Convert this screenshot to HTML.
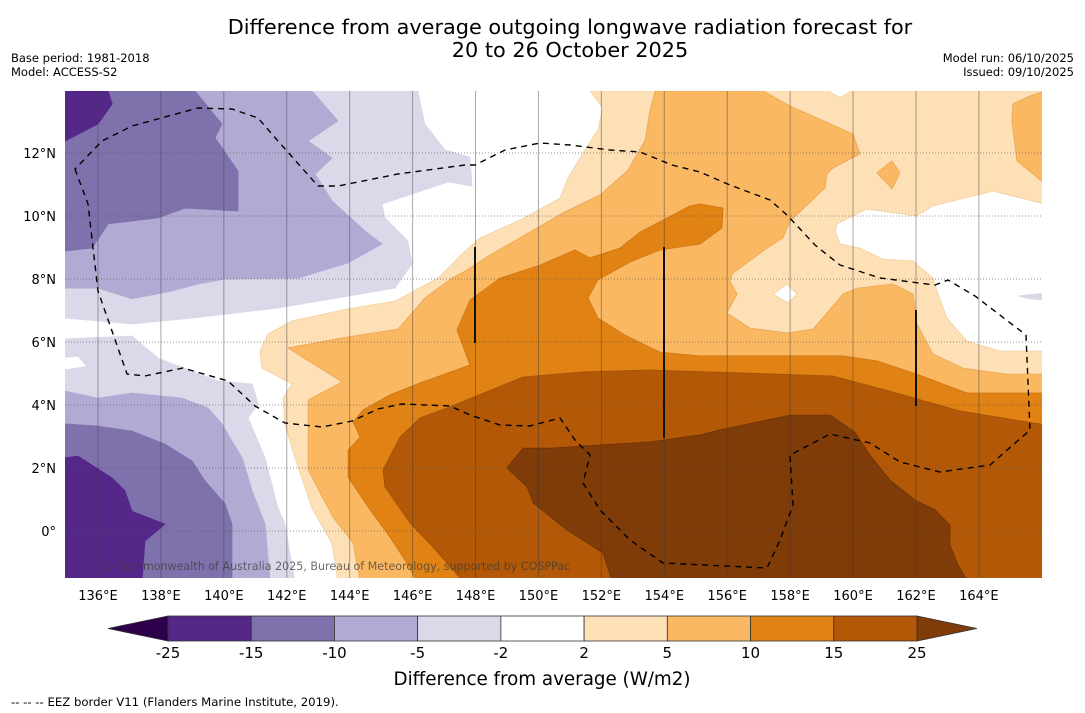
<!DOCTYPE html>
<html><head><meta charset="utf-8">
<style>
html,body{margin:0;padding:0;background:#fff;width:1085px;height:713px;overflow:hidden;font-family:"DejaVu Sans","Liberation Sans",sans-serif;}
svg{position:absolute;left:0;top:0;}
</style></head>
<body>
<svg width="1085" height="713" viewBox="0 0 1085 713">
<text x="570" y="34" text-anchor="middle" font-size="20.8" fill="#000">Difference from average outgoing longwave radiation forecast for</text>
<text x="570" y="57" text-anchor="middle" font-size="20.8" fill="#000">20 to 26 October 2025</text>
<text x="11" y="62" font-size="11.5">Base period: 1981-2018</text>
<text x="11" y="76" font-size="11.5">Model: ACCESS-S2</text>
<text x="1074" y="62" font-size="11.5" text-anchor="end">Model run: 06/10/2025</text>
<text x="1074" y="76" font-size="11.5" text-anchor="end">Issued: 09/10/2025</text>
<defs><clipPath id="mapclip"><rect x="65" y="91" width="977" height="487"/></clipPath></defs>
<g id="map" clip-path="url(#mapclip)"></g>
<g id="axes"></g>
<g id="cbar"></g>
<text x="542" y="685" text-anchor="middle" font-size="18.3">Difference from average (W/m2)</text>
<text x="11" y="706" font-size="11.7">--  --  -- EEZ border V11 (Flanders Marine Institute, 2019).</text>
</svg>
<script>
// contour level polygons [lon,lat]
const lavenderUpper=[[134.95,13.97],[146.17,13.97],[146.39,12.92],[147.03,12.10],[147.82,11.87],[147.89,10.95],[147.13,11.08],[145.03,10.38],[145.12,9.94],[145.85,9.21],[145.98,8.48],[145.44,7.71],[143.63,7.40],[141.72,7.08],[138.99,6.76],[137.08,6.57],[134.95,6.76]];
const lavenderLower=[[134.95,6.10],[137.08,6.19],[137.91,5.49],[139.81,4.76],[140.90,4.67],[141.09,4.03],[140.77,3.59],[141.31,2.32],[141.72,0.73],[141.94,0.22],[142.26,-1.6],[134.95,-1.6]];
const whiteNotch=[[134.95,5.49],[135.36,5.52],[135.59,5.24],[134.95,5.14]];
const m10Upper=[[134.95,13.97],[142.80,13.97],[143.63,13.02],[142.68,12.38],[143.44,11.84],[142.90,11.33],[143.44,10.48],[144.49,9.52],[145.03,9.11],[143.95,8.51],[142.36,8.03],[140.04,8.00],[139.18,7.84],[138.35,7.62],[137.08,7.37],[136.00,7.71],[134.95,7.71]];
const m10Lower=[[134.95,4.44],[136.00,4.22],[137.08,4.38],[138.67,4.22],[139.50,3.90],[139.94,3.40],[140.26,2.86],[140.58,2.32],[140.90,1.27],[141.31,0.22],[141.47,-1.6],[134.95,-1.6]];
const m15Upper=[[134.95,13.97],[139.08,13.97],[139.94,12.92],[139.72,12.48],[140.45,11.43],[140.45,10.16],[138.77,10.25],[137.91,9.94],[136.32,9.75],[135.81,8.98],[134.95,8.89]];
const m15Lower=[[134.95,3.40],[136.00,3.33],[137.08,3.17],[138.13,2.76],[138.99,2.22],[139.40,1.59],[140.04,0.86],[140.26,0.22],[140.26,-1.6],[134.95,-1.6]];
const m25Upper=[[134.95,13.97],[136.32,13.97],[136.45,13.56],[136.00,12.92],[134.95,12.38]];
const m25Lower=[[134.95,2.32],[135.36,2.38],[136.45,1.68],[136.86,1.27],[137.08,0.63],[138.13,0.22],[137.49,-0.32],[137.40,-1.6],[134.95,-1.6]];
const p2Main=[[151.64,13.97],[152.05,13.43],[151.89,12.73],[151.48,12.10],[150.94,11.21],[150.69,10.57],[149.41,9.87],[148.14,9.30],[147.67,8.89],[146.81,8.03],[145.44,7.30],[143.95,7.05],[142.17,6.67],[141.40,6.25],[141.15,5.71],[141.21,5.17],[142.17,4.67],[141.88,4.22],[141.94,3.40],[142.26,2.32],[142.80,0.73],[143.44,-0.41],[143.63,-1.6],[166.1,-1.6],[166.1,13.97]];
const whiteRight=[[159.43,9.52],[159.49,9.75],[160.44,10.22],[162.03,10.00],[162.54,10.32],[164.45,10.79],[166.1,10.38],[166.1,5.71],[164.67,5.71],[163.62,6.03],[162.99,6.76],[162.67,7.62],[162.54,8.03],[161.91,8.57],[160.95,8.63],[160.22,8.98],[159.59,9.11]];
const whiteTop=[[159.17,14.0],[159.59,13.75],[160.00,14.0]];
const whiteDiamond=[[157.46,7.52],[157.90,7.84],[158.22,7.52],[157.93,7.24]];
const lavSliver=[[165.24,7.46],[166.1,7.56],[166.1,7.33],[165.62,7.37]];
const p5Main=[[153.71,13.97],[157.14,13.97],[158.00,13.49],[158.86,13.11],[160.00,12.60],[160.22,11.97],[159.36,11.52],[159.17,11.33],[159.11,10.89],[158.00,9.84],[157.77,9.30],[157.27,8.98],[156.18,8.19],[156.09,7.94],[156.31,7.52],[155.99,6.92],[156.72,6.44],[157.90,6.29],[158.73,6.41],[159.68,7.52],[160.13,7.71],[161.27,7.84],[161.91,7.52],[162.03,6.57],[162.54,5.62],[163.50,5.17],[164.89,4.98],[166.1,4.98],[166.1,-1.6],[144.33,-1.6],[144.11,-0.38],[143.47,0.44],[142.96,1.40],[142.68,1.94],[142.68,4.16],[143.76,4.73],[142.04,5.81],[143.76,6.13],[145.54,6.41],[146.39,7.40],[147.25,8.03],[147.67,8.25],[148.46,8.76],[149.73,9.49],[150.84,10.13],[151.96,10.67],[152.85,11.46],[153.39,12.41],[153.55,13.37]];
const p5Blob=[[165.05,13.02],[165.08,13.56],[165.62,13.81],[166.1,13.97],[166.1,11.02],[165.21,11.75]];
const p5Diamond=[[160.76,11.37],[161.24,11.75],[161.49,11.37],[161.24,10.86]];
const p10Main=[[166.1,4.38],[163.62,4.38],[162.03,4.98],[160.76,5.40],[159.68,5.56],[155.14,5.56],[153.86,5.68],[152.75,6.22],[151.89,6.76],[151.58,7.40],[151.89,7.97],[152.91,8.54],[153.86,8.92],[155.14,9.11],[155.83,9.62],[155.87,10.25],[155.14,10.38],[154.82,10.32],[153.23,9.49],[152.59,8.98],[151.64,8.67],[151.16,8.92],[150.05,8.44],[148.78,8.03],[147.82,7.33],[147.41,6.38],[147.82,5.27],[146.24,4.70],[145.28,4.32],[144.42,3.84],[144.11,3.46],[144.33,2.98],[143.95,2.57],[143.95,1.71],[144.65,0.67],[145.28,-0.19],[145.82,-1.02],[146.14,-1.6],[166.1,-1.6]];
const p15Main=[[166.1,3.37],[163.40,3.81],[161.49,4.35],[159.36,4.92],[153.55,5.11],[151.42,5.05],[149.51,4.89],[147.19,3.94],[146.24,3.59],[145.60,2.98],[145.06,1.94],[145.12,1.40],[145.92,0.25],[146.65,-0.51],[147.60,-1.6],[166.1,-1.6]];
const p25Main=[[149.00,2.00],[149.51,2.63],[150.37,2.63],[153.55,2.83],[155.14,3.05],[155.77,3.21],[158.00,3.68],[159.27,3.68],[160.06,3.14],[160.54,2.41],[161.17,1.62],[161.97,0.98],[162.61,0.67],[163.08,0.19],[163.08,-0.44],[163.34,-1.08],[163.65,-1.6],[152.34,-1.6],[152.05,-0.70],[150.91,0.03],[149.83,0.89],[149.64,1.40]];
const lonTicks=[136,138,140,142,144,146,148,150,152,154,156,158,160,162,164];
const latTicks=[0,2,4,6,8,10,12];
const cbarLevels=["-25","-15","-10","-5","-2","2","5","10","15","25"];
const cbarColors=["#542789","#7f72ac","#b1abd3","#d9d9ea","#ffffff","#fde0b6","#fbb862","#e08214","#b35806"];

const NS='http://www.w3.org/2000/svg';
const xS=lon=>98+(lon-136)*31.46;
const yS=lat=>531-lat*31.5;
const map=document.getElementById('map');
function poly(pts,fill,name,stroke){
  const p=document.createElementNS(NS,'polygon');
  p.setAttribute('points',pts.map(d=>xS(d[0]).toFixed(1)+','+yS(d[1]).toFixed(1)).join(' '));
  p.setAttribute('fill',fill);
  p.setAttribute('stroke',stroke||fill);
  p.setAttribute('stroke-width','0.8');
  
  
  map.appendChild(p);
}
const bg=document.createElementNS(NS,'rect');
bg.setAttribute('x',65);bg.setAttribute('y',91);bg.setAttribute('width',977);bg.setAttribute('height',487);bg.setAttribute('fill','#fff');


map.appendChild(bg);
poly(lavenderUpper,'#d9d9ea','contour-minus2-upper');
poly(lavenderLower,'#d9d9ea','contour-minus2-lower');
poly(whiteNotch,'#ffffff','white-notch');
poly(m10Upper,'#b1abd3','contour-minus5-upper');
poly(m10Lower,'#b1abd3','contour-minus5-lower');
poly(m15Upper,'#7f72ac','contour-minus10-upper');
poly(m15Lower,'#7f72ac','contour-minus10-lower');
poly(m25Upper,'#542789','contour-minus15-upper');
poly(m25Lower,'#542789','contour-minus15-lower');
poly(p2Main,'#fde0b6','contour-plus2','#f2cfa0');
poly(whiteRight,'#ffffff','white-region-east','#f2cfa0');
poly(whiteTop,'#ffffff','white-region-top','#f2cfa0');
poly(whiteDiamond,'#ffffff','white-diamond','#f2cfa0');
poly(lavSliver,'#d9d9ea','lavender-sliver');
poly(p5Main,'#fbb862','contour-plus5','#eaa552');
poly(p5Blob,'#fbb862','contour-plus5-ne','#eaa552');
poly(p5Diamond,'#fbb862','contour-plus5-diamond','#eaa552');
poly(p10Main,'#e08214','contour-plus10','#d07612');
poly(p15Main,'#b35806','contour-plus15','#a55006');
poly(p25Main,'#7f3b08','contour-plus25','#6f3307');

lonTicks.forEach(l=>{
  const ln=document.createElementNS(NS,'line');
  ln.setAttribute('x1',xS(l));ln.setAttribute('x2',xS(l));ln.setAttribute('y1',91);ln.setAttribute('y2',578);
  ln.setAttribute('stroke','rgba(60,60,60,0.45)');ln.setAttribute('stroke-width','1');
  
  
  map.appendChild(ln);
});
latTicks.forEach(l=>{
  const ln=document.createElementNS(NS,'line');
  ln.setAttribute('x1',65);ln.setAttribute('x2',1042);ln.setAttribute('y1',yS(l));ln.setAttribute('y2',yS(l));
  ln.setAttribute('stroke','rgba(80,80,80,0.6)');ln.setAttribute('stroke-width','1');ln.setAttribute('stroke-dasharray','1 2');
  
  
  map.appendChild(ln);
});
const eez=document.createElementNS(NS,'path');
eez.setAttribute('d','M75,169 L88,204 L98,291 L112,331 L127,374 L145,376 L183,368 L228,381 L255,406 L285,423 L322,427 L352,421 L378,409 L402,404 L450,406 L470,415 L500,425 L530,426 L560,418 L575,440 L590,455 L583,483 L600,510 L630,540 L663,563 L767,568 L780,540 L793,505 L790,455 L830,434 L870,443 L900,462 L940,472 L990,465 L1030,430 L1026,335 L975,296 L948,280 L935,285 L880,278 L840,265 L815,245 L787,215 L770,200 L730,185 L700,172 L672,165 L640,152 L610,150 L570,145 L540,143 L505,150 L475,165 L465,165 L398,174 L338,186 L318,186 L278,141 L258,118 L232,109 L198,108 L132,126 L102,141 Z');
eez.setAttribute('fill','none');eez.setAttribute('stroke','#000');eez.setAttribute('stroke-width','1.4');eez.setAttribute('stroke-dasharray','6 5');


map.appendChild(eez);
[[475,247,343],[664,247,438],[916,310,406]].forEach(v=>{
  const ln=document.createElementNS(NS,'line');
  ln.setAttribute('x1',v[0]);ln.setAttribute('x2',v[0]);ln.setAttribute('y1',v[1]);ln.setAttribute('y2',v[2]);
  ln.setAttribute('stroke','#111');ln.setAttribute('stroke-width','2');
  
  
  map.appendChild(ln);
});
const cp=document.createElementNS(NS,'text');
cp.setAttribute('x',103);cp.setAttribute('y',570);cp.setAttribute('font-size','11.1');cp.setAttribute('fill','rgba(60,60,60,0.75)');
cp.textContent='© Commonwealth of Australia 2025, Bureau of Meteorology, supported by COSPPac';


map.appendChild(cp);

const axes=document.getElementById('axes');
lonTicks.forEach(l=>{
  const t=document.createElementNS(NS,'text');
  t.setAttribute('x',xS(l));t.setAttribute('y',600);t.setAttribute('text-anchor','middle');t.setAttribute('font-size','13');
  t.textContent=l+'°E';
  
  
  axes.appendChild(t);
});
latTicks.forEach(l=>{
  const t=document.createElementNS(NS,'text');
  t.setAttribute('x',56);t.setAttribute('y',yS(l)+5);t.setAttribute('text-anchor','end');t.setAttribute('font-size','13');
  t.textContent=l===0?'0°':l+'°N';
  
  
  axes.appendChild(t);
});

const cb=document.getElementById('cbar');
const cbX0=168,cbX1=917,cbY=616,cbH=25,segW=(cbX1-cbX0)/cbarColors.length;
const triL=document.createElementNS(NS,'polygon');
triL.setAttribute('points',`${cbX0},${cbY} 108,${cbY+cbH/2} ${cbX0},${cbY+cbH}`);
triL.setAttribute('fill','#2d004b');triL.setAttribute('stroke','#333');triL.setAttribute('stroke-width','0.8');


cb.appendChild(triL);
const triR=document.createElementNS(NS,'polygon');
triR.setAttribute('points',`${cbX1},${cbY} 977,${cbY+cbH/2} ${cbX1},${cbY+cbH}`);
triR.setAttribute('fill','#7f3b08');triR.setAttribute('stroke','#333');triR.setAttribute('stroke-width','0.8');


cb.appendChild(triR);
cbarColors.forEach((c,i)=>{
  const r=document.createElementNS(NS,'rect');
  r.setAttribute('x',cbX0+i*segW);r.setAttribute('y',cbY);r.setAttribute('width',segW);r.setAttribute('height',cbH);
  r.setAttribute('fill',c);r.setAttribute('stroke','#333');r.setAttribute('stroke-width','0.8');
  
  
  cb.appendChild(r);
});
cbarLevels.forEach((lv,i)=>{
  const t=document.createElementNS(NS,'text');
  t.setAttribute('x',cbX0+i*segW);t.setAttribute('y',658);t.setAttribute('text-anchor','middle');t.setAttribute('font-size','15');
  t.textContent=lv;
  
  
  cb.appendChild(t);
});
</script>
</body></html>
